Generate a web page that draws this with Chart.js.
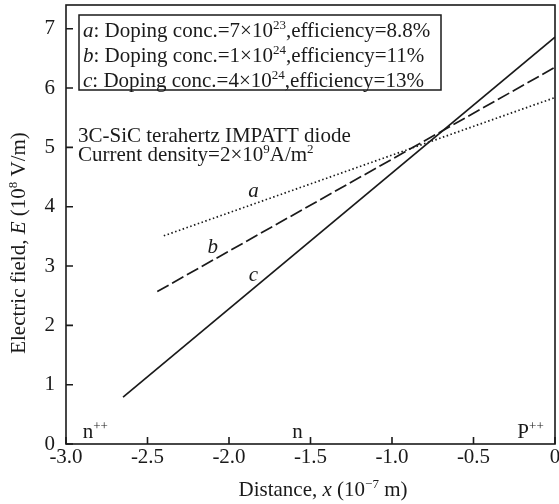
<!DOCTYPE html>
<html>
<head>
<meta charset="utf-8">
<script src="https://cdn.jsdelivr.net/npm/chart.js@4.4.0/dist/chart.umd.min.js"></script>
<style>
  body { margin: 0; background: #fff; }
  #wrap { width: 559px; height: 504px; position: relative; }
</style>
</head>
<body>
<div id="wrap"><canvas id="fieldChart"></canvas></div>
<script>
// Data (x in 1e-7 m, E in 1e8 V/m)
const xTicks = [-3.0, -2.5, -2.0, -1.5, -1.0, -0.5, 0];
const yTicks = [0, 1, 2, 3, 4, 5, 6, 7];
const seriesNames = ['a', 'b', 'c'];
const xA = [-2.40, 0];
const yA = [3.51, 5.84];
const xB = [-2.44, 0];
const yB = [2.57, 6.35];
const xC = [-2.65, 0];
const yC = [0.79, 6.86];

const FONT = '"Liberation Serif", "Times New Roman", serif';
const INK = '#1a1a1a';
const FS = 21;

function pts(xs, ys) {
    return xs.map((x, i) => ({ x: x, y: ys[i] }));
}

// draw text made of parts: {t, i (italic), sup}
function drawRich(ctx, parts, x, y, size, align) {
    let w = 0;
    const fonts = parts.map(p => {
        const s = p.sup ? size * 0.62 : size;
        const f = (p.i ? 'italic ' : '') + s + 'px ' + FONT;
        ctx.font = f;
        const pw = ctx.measureText(p.t).width;
        w += pw;
        return { f: f, w: pw };
    });
    let cx = x;
    if (align === 'center') cx = x - w / 2;
    ctx.textBaseline = 'middle';
    ctx.textAlign = 'left';
    parts.forEach((p, k) => {
        ctx.font = fonts[k].f;
        ctx.fillText(p.t, cx, p.sup ? y - size * 0.27 : y);
        cx += fonts[k].w;
    });
}

const legendRows = [
    [{ t: 'a', i: true }, { t: ': Doping conc.=7×10' }, { t: '23', sup: true }, { t: ',efficiency=8.8%' }],
    [{ t: 'b', i: true }, { t: ': Doping conc.=1×10' }, { t: '24', sup: true }, { t: ',efficiency=11%' }],
    [{ t: 'c', i: true }, { t: ': Doping conc.=4×10' }, { t: '24', sup: true }, { t: ',efficiency=13%' }]
];

// curve labels and region labels in data coordinates
const curveLabels = [
    { t: 'a', x: -1.85, y: 4.26 },
    { t: 'b', x: -2.10, y: 3.31 },
    { t: 'c', x: -1.85, y: 2.84 }
];
const regionLabels = [
    { parts: [{ t: 'n' }, { t: '++', sup: true }], x: -2.82, y: 0.19 },
    { parts: [{ t: 'n' }], x: -1.58, y: 0.19 },
    { parts: [{ t: 'P' }, { t: '++', sup: true }], x: -0.15, y: 0.19 }
];

const decorPlugin = {
    id: 'decor',
    afterDraw(chart) {
        const ctx = chart.ctx;
        const a = chart.chartArea;
        const xs = chart.scales.x;
        const ys = chart.scales.y;
        ctx.save();
        ctx.strokeStyle = INK;
        ctx.fillStyle = INK;

        // frame
        ctx.lineWidth = 1.6;
        ctx.strokeRect(a.left, a.top, a.right - a.left, a.bottom - a.top);

        // inward ticks
        ctx.beginPath();
        xTicks.forEach(v => {
            const px = xs.getPixelForValue(v);
            ctx.moveTo(px, a.bottom);
            ctx.lineTo(px, a.bottom - 7);
        });
        yTicks.forEach(v => {
            const py = ys.getPixelForValue(v);
            ctx.moveTo(a.left, py);
            ctx.lineTo(a.left + 7, py);
        });
        ctx.stroke();

        // legend box
        ctx.lineWidth = 1.5;
        ctx.strokeRect(79, 15, 362, 75);
        legendRows.forEach((row, k) => {
            drawRich(ctx, row, 83, 31 + k * 25, FS, 'left');
        });

        // annotation
        drawRich(ctx, [{ t: '3C-SiC terahertz IMPATT diode' }], 78, 136, FS, 'left');
        drawRich(ctx, [{ t: 'Current density=2×10' }, { t: '9', sup: true }, { t: 'A/m' }, { t: '2', sup: true }], 78, 155, FS, 'left');

        curveLabels.forEach(l => {
            drawRich(ctx, [{ t: l.t, i: true }], xs.getPixelForValue(l.x), ys.getPixelForValue(l.y), FS, 'center');
        });
        regionLabels.forEach(l => {
            drawRich(ctx, l.parts, xs.getPixelForValue(l.x), ys.getPixelForValue(l.y), FS, 'center');
        });

        // axis titles
        drawRich(ctx, [{ t: 'Distance, ' }, { t: 'x', i: true }, { t: ' (10' }, { t: '−7', sup: true }, { t: ' m)' }],
            323, 490, FS, 'center');
        ctx.translate(19, 243);
        ctx.rotate(-Math.PI / 2);
        drawRich(ctx, [{ t: 'Electric field, ' }, { t: 'E', i: true }, { t: ' (10' }, { t: '8', sup: true }, { t: ' V/m)' }],
            0, 0, FS, 'center');
        ctx.restore();
    }
};

new Chart(document.getElementById('fieldChart'), {
    type: 'scatter',
    data: {
        datasets: [
            {
                label: seriesNames[0],
                data: pts(xA, yA),
                showLine: true,
                borderColor: INK,
                borderWidth: 1.7,
                borderDash: [1.5, 2.5],
                pointRadius: 0
            },
            {
                label: seriesNames[1],
                data: pts(xB, yB),
                showLine: true,
                borderColor: INK,
                borderWidth: 1.7,
                borderDash: [13, 4],
                pointRadius: 0
            },
            {
                label: seriesNames[2],
                data: pts(xC, yC),
                showLine: true,
                borderColor: INK,
                borderWidth: 1.7,
                pointRadius: 0
            }
        ]
    },
    options: {
        responsive: true,
        maintainAspectRatio: false,
        animation: false,
        layout: { padding: { left: 0, top: 5, right: 4, bottom: 0 } },
        plugins: {
            legend: { display: false },
            tooltip: { enabled: false }
        },
        scales: {
            x: {
                type: 'linear',
                min: -3,
                max: 0,
                afterBuildTicks: s => { s.ticks = xTicks.map(v => ({ value: v })); },
                afterFit: s => { s.height = 60; s.paddingLeft = 0; s.paddingRight = 0; },
                grid: { display: false, drawTicks: false, tickLength: 0 },
                border: { display: false },
                ticks: {
                    padding: 1,
                    color: INK,
                    font: { family: FONT, size: FS },
                    maxRotation: 0,
                    callback: v => v === 0 ? '0' : v.toFixed(1)
                }
            },
            y: {
                type: 'linear',
                min: 0,
                max: 7.4,
                afterBuildTicks: s => { s.ticks = yTicks.map(v => ({ value: v })); },
                afterFit: s => { s.width = 66; s.paddingTop = 0; s.paddingBottom = 0; },
                grid: { display: false, drawTicks: false, tickLength: 0 },
                border: { display: false },
                ticks: {
                    padding: 11,
                    color: INK,
                    font: { family: FONT, size: FS }
                }
            }
        }
    },
    plugins: [decorPlugin]
});
</script>
</body>
</html>
